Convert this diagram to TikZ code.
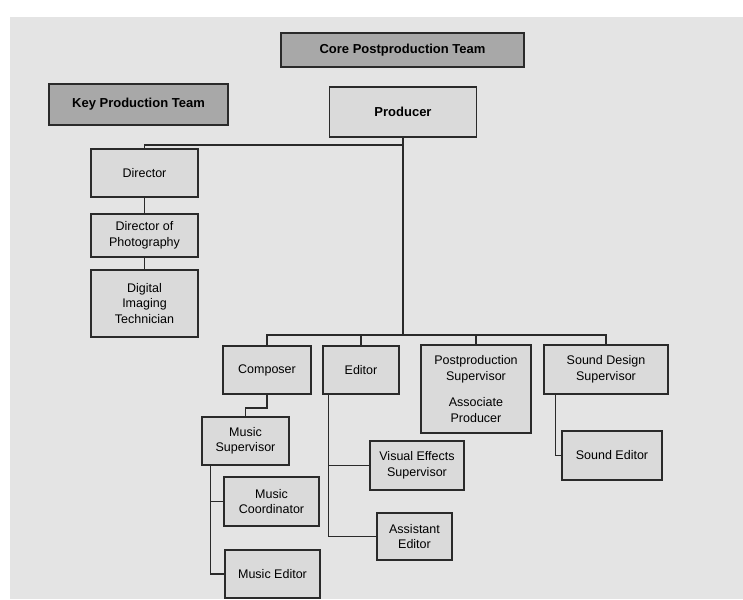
\documentclass[tikz,border=0pt]{standalone}
\usepackage{fontspec}
\setmainfont{Liberation Sans}
\usetikzlibrary{calc}
\definecolor{bggray}{HTML}{E4E4E4}
\definecolor{boxgray}{HTML}{DADADA}
\definecolor{headgray}{HTML}{A8A8A8}
\definecolor{edge}{HTML}{2A2A2A}
\tikzset{
  box/.style={draw=edge, fill=boxgray, line width=1.5pt, align=center, inner sep=0pt,
    font=\fontsize{12.5}{15.5}\selectfont},
  headbox/.style={box, fill=headgray, font=\bfseries\fontsize{13}{15}\selectfont},
  link/.style={draw=edge, line width=1.5pt}
}
\begin{document}
\begin{tikzpicture}[x=1pt,y=-1pt]
\useasboundingbox (0,0) rectangle (743,599);
\fill[white] (0,0) rectangle (743,599);
\fill[bggray] (10,17) rectangle (743,599);

\node[headbox, minimum width=243pt, minimum height=34pt] (core) at (402.5,50) {Core Postproduction Team};
\node[headbox, minimum width=179pt, minimum height=41pt] (key) at (138.5,104.5) {Key Production Team};
\node[box, font=\bfseries\fontsize{13}{15}\selectfont, minimum width=147pt, minimum height=50pt] (producer) at (403,112) {Producer};

\node[box, minimum width=107pt, minimum height=48pt] (director) at (144.5,173) {Director};
\node[box, minimum width=107pt, minimum height=43pt] (dop) at (144.5,235.5) {Director of\\Photography};
\node[box, minimum width=107pt, minimum height=67pt] (dit) at (144.5,303.5) {Digital\\Imaging\\Technician};

\node[box, minimum width=88pt, minimum height=48pt] (composer) at (267,370) {Composer};
\node[box, minimum width=76pt, minimum height=48pt] (editor) at (361,370) {Editor};
\node[box, minimum width=110pt, minimum height=88pt, font=\fontsize{12.5}{16.5}\selectfont] (pps) at (476,389) {Postproduction\\Supervisor\\[9pt]Associate\\Producer};
\node[box, minimum width=124pt, minimum height=49pt] (sds) at (606,369.5) {Sound Design\\Supervisor};

\node[box, minimum width=87pt, minimum height=48pt] (musicsup) at (245.5,441) {Music\\Supervisor};
\node[box, minimum width=95pt, minimum height=49pt] (musiccoord) at (271.5,501.5) {Music\\Coordinator};
\node[box, minimum width=95pt, minimum height=48pt] (musiced) at (272.5,574) {Music Editor};

\node[box, minimum width=94pt, minimum height=49pt] (vfx) at (417,465.5) {Visual Effects\\Supervisor};
\node[box, minimum width=75pt, minimum height=47pt] (asst) at (414.5,536.5) {Assistant\\Editor};

\node[box, minimum width=100pt, minimum height=49pt] (sounded) at (612,455.5) {Sound Editor};

% connectors
\coordinate (bus1) at (403,145);
\coordinate (bus2) at (403,335);
\draw[link] (producer.south) -- (bus2);
\draw[link] (bus1) -| (director.north);
\draw[link] (director.south) -- (dop.north);
\draw[link] (dop.south) -- (dit.north);

\draw[link] (composer.north) |- (bus2) -| (sds.north);
\draw[link] (editor.north) -- (editor.north |- bus2);
\draw[link] (pps.north) -- (pps.north |- bus2);

\draw[link] (composer.south) -- ++(0,13) -| (musicsup.north);
\coordinate (msx) at ([xshift=9pt]musicsup.south west);
\draw[link] (msx) |- (musiccoord.west);
\draw[link] (msx) |- (musiced.west);

\coordinate (edx) at ([xshift=6pt]editor.south west);
\draw[link] (edx) |- (vfx.west);
\draw[link] (edx) |- (asst.west);

\coordinate (sdx) at ([xshift=12pt]sds.south west);
\draw[link] (sdx) |- (sounded.west);
\end{tikzpicture}
\end{document}
